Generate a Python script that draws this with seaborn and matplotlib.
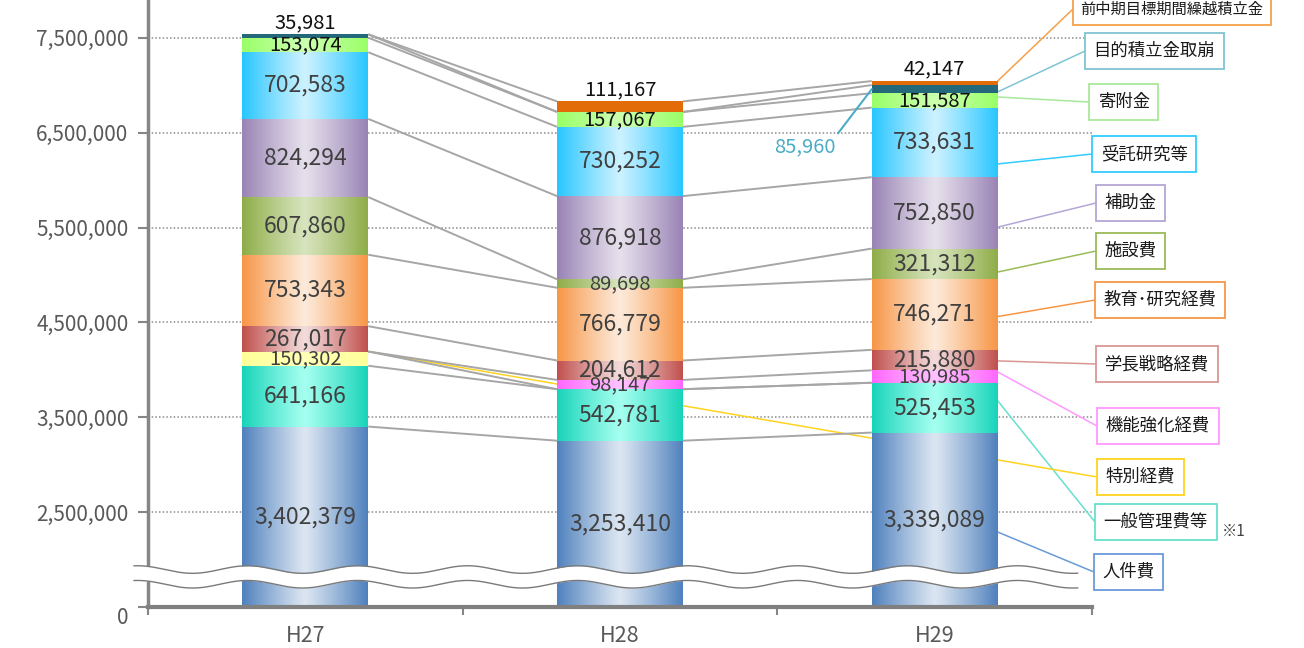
import numpy as np
import matplotlib
matplotlib.use("Agg")
import matplotlib.pyplot as plt
import seaborn as sns
from matplotlib.colors import to_rgb
from matplotlib.patches import ConnectionPatch

# ---- data (千円) ----
years = ["H27", "H28", "H29"]
series = ["人件費", "一般管理費等", "特別経費", "機能強化経費", "学長戦略経費",
          "教育･研究経費", "施設費", "補助金", "受託研究等", "寄附金",
          "目的積立金取崩", "前中期目標期間繰越積立金"]
personnel = [3402379, 3253410, 3339089]
general_admin = [641166, 542781, 525453]
special = [150302, 0, 0]
function_enh = [0, 98147, 130985]
president = [267017, 204612, 215880]
edu_research = [753343, 766779, 746271]
facilities = [607860, 89698, 321312]
subsidies = [824294, 876918, 752850]
contract = [702583, 730252, 733631]
donations = [153074, 157067, 151587]
reserve_use = [35981, 0, 85960]
carryover = [0, 111167, 42147]

ytick_values = [1500000, 2500000, 3500000, 4500000, 5500000, 6500000, 7500000]
ytick_labels = ["0", "2,500,000", "3,500,000", "4,500,000",
                "5,500,000", "6,500,000", "7,500,000"]

values = [personnel, general_admin, special, function_enh, president,
          edu_research, facilities, subsidies, contract, donations,
          reserve_use, carryover]

# ---- styles ----
edge_colors = ["#4F81BD", "#17D4B9", "#FFFF99", "#FF66FF", "#C0504D", "#F79646",
               "#8EAD48", "#9983B5", "#27C6FF", "#99FF66", "#23697A", "#E36C09"]
center_colors = ["#DCE6F2", "#A5FFF0", "#FFFFB8", "#FFC2FF", "#F2DCDB", "#FDEADA",
                 "#D7E4BD", "#E6E0EC", "#CCF2FF", "#CCFFB0", "#23697A", "#E36C09"]
label_colors = ["#404040"] * 9 + ["#111111", "#111111", "#111111"]
box_colors = ["#6A9AD8", "#66E0CC", "#FFD320", "#FF99FF", "#D99694", "#F79646",
              "#9BBB59", "#B4A7D6", "#33CCFF", "#A8E89A", "#7FC4D4", "#F5A04A"]
box_fontsizes = [12.5] * 11 + [11]
# legend boxes: left edge px, centre y px
box_pos = [(1094, 572), (1095, 522), (1097, 477), (1097, 426), (1096, 364),
           (1095, 300), (1096, 251), (1096, 203), (1092, 154), (1089, 102),
           (1085, 51), (1073, 9)]
# leader anchors: (bar index, fraction of segment height)
anchors = [(2, 0.43), (2, 0.64), (0, 1.0), (2, 0.87), (2, 0.46), (2, 0.47),
           (2, 0.23), (2, 0.30), (2, 0.19), (2, 0.74), (2, 0.16), (2, 1.0)]
callouts = {(10, 2): (-67, -58)}

W, H = 1304, 648
BAR_W = 0.4
YMIN, YMAX = 1500000, 7900000

sns.set_theme(style="white")
plt.rcParams["font.family"] = ["Noto Sans CJK JP", "DejaVu Sans"]

fig = plt.figure(figsize=(W / 100, H / 100), dpi=100)
ax = fig.add_axes([148 / W, 1 - 607 / H, (1092 - 148) / W, 607 / H])

vals = np.array(values, dtype=float)
tops = np.cumsum(vals, axis=0)
bottoms = tops - vals

# dotted gridlines behind everything
for v in ytick_values[1:]:
    ax.axhline(v, color="#8C8C8C", lw=1.1, ls=(0, (1, 1.4)), zorder=0.5)

t = np.linspace(0, 1, 256)
prof = np.abs(t - 0.5) * 2

for s, name in enumerate(series):
    n_before = len(ax.patches)
    sns.barplot(x=years, y=list(vals[s]), bottom=list(bottoms[s]), order=years,
                color=edge_colors[s], saturation=1, width=BAR_W, errorbar=None,
                linewidth=0, ax=ax, zorder=2)
    e = np.array(to_rgb(edge_colors[s]))
    c = np.array(to_rgb(center_colors[s]))
    grad = (c[None, :] + (e - c)[None, :] * prof[:, None] ** 1.1)[None, :, :]
    for p in ax.patches[n_before:]:
        if p.get_height() <= 0:
            continue
        x0 = p.get_x()
        y0 = max(p.get_y(), YMIN)
        y1 = p.get_y() + p.get_height()
        im = ax.imshow(grad, extent=[x0, x0 + p.get_width(), y0, y1],
                       aspect="auto", interpolation="bilinear", zorder=2.1)
        im.set_clip_path(p)

# series lines between neighbouring bars
for i in range(len(years) - 1):
    for s in range(len(series)):
        ax.plot([i + BAR_W / 2, i + 1 - BAR_W / 2], [tops[s, i], tops[s, i + 1]],
                color="#A6A6A6", lw=1.4, zorder=1.5, solid_capstyle="butt")

ax.set_xlim(-0.5, 2.5)
ax.set_ylim(YMIN, YMAX)

# value labels
for i in range(len(years)):
    nz = [s for s in range(len(series)) if vals[s, i] > 0]
    top_s = nz[-1]
    for s in nz:
        v = vals[s, i]
        txt = f"{int(v):,}"
        size = 16.5 if v >= 200000 else 14.5
        if (s, i) in callouts:
            dx, dy = callouts[(s, i)]
            mid = (bottoms[s, i] + tops[s, i]) / 2
            ax.annotate(txt, xy=(i - BAR_W / 2, mid), xytext=(dx, dy),
                        textcoords="offset pixels", ha="center", va="center",
                        fontsize=14.5, color="#4BACC6", zorder=6,
                        arrowprops=dict(arrowstyle="-", color="#4BACC6", lw=1.5,
                                        relpos=(1.0, 1.0), shrinkA=0, shrinkB=0))
        elif s == top_s:
            ax.annotate(txt, xy=(i, tops[s, i]), xytext=(0, 1),
                        textcoords="offset points", ha="center", va="bottom",
                        fontsize=14.5, color=label_colors[s], zorder=6)
        else:
            lo = max(bottoms[s, i], YMIN)
            ax.text(i, (lo + tops[s, i]) / 2, txt, ha="center", va="center",
                    fontsize=size, color=label_colors[s], zorder=6)

# axis break band
xs = np.linspace(-0.545, 2.455, 800)
px = 148 + (xs + 0.5) * (1092 - 148) / 3
wave = 40000 * np.sin(2 * np.pi * px / 110)
up = 1895000 + wave
lo = 1740000 + wave
band = ax.fill_between(xs, lo, up, color="white", zorder=4, lw=0)
band.set_clip_on(False)
for yy in (up, lo):
    ax.plot(xs, yy, color="#7A7A7A", lw=1.0, zorder=4.1, clip_on=False)

# axes styling
sns.despine(ax=ax, top=True, right=True)
ax.spines["left"].set_color("#868686")
ax.spines["left"].set_linewidth(2.5)
ax.spines["bottom"].set_color("#808080")
ax.spines["bottom"].set_linewidth(3)
ax.spines["bottom"].set_zorder(5)
ax.set_yticks(ytick_values, ytick_labels)
ax.tick_params(axis="y", length=7, width=1.5, color="#868686", direction="out",
               labelcolor="#595959", labelsize=15, pad=7, left=True)
ax.get_yticklabels()[0].set_va("top")
ax.set_xticks(range(len(years)), years)
ax.set_xticks([-0.5, 0.5, 1.5, 2.5], minor=True)
ax.tick_params(axis="x", which="major", length=0, labelcolor="#595959",
               labelsize=15.5, pad=13)
ax.tick_params(axis="x", which="minor", length=6, width=1.5, color="#868686",
               direction="out", bottom=True)
ax.set_xlabel("")
ax.set_ylabel("")
ax.grid(False)

# legend boxes with leader lines
fig.canvas.draw()
for s, name in enumerate(series):
    bx, by = box_pos[s]
    fy = 1 - by / H
    fs = box_fontsizes[s]
    fig.text(bx / W + (fs * 0.5 / 72) / (W / 100), fy, name, ha="left",
             va="center", fontsize=fs, color="#1A1A1A", zorder=10,
             bbox=dict(boxstyle="square,pad=0.5", fc="white", ec=box_colors[s], lw=1.3))
    bi, frac = anchors[s]
    val = max(bottoms[s, bi], YMIN) + frac * (tops[s, bi] - max(bottoms[s, bi], YMIN))
    con = ConnectionPatch(xyA=(bx / W, fy), coordsA=fig.transFigure,
                          xyB=(bi + BAR_W / 2, val), coordsB=ax.transData,
                          color=box_colors[s], lw=1.1, zorder=1.2, clip_on=False)
    ax.add_artist(con)

fig.text(1222 / W, 1 - 531 / H, "※1", ha="left", va="center", fontsize=11,
         color="#404040")

fig.savefig("out.png", dpi=100)
